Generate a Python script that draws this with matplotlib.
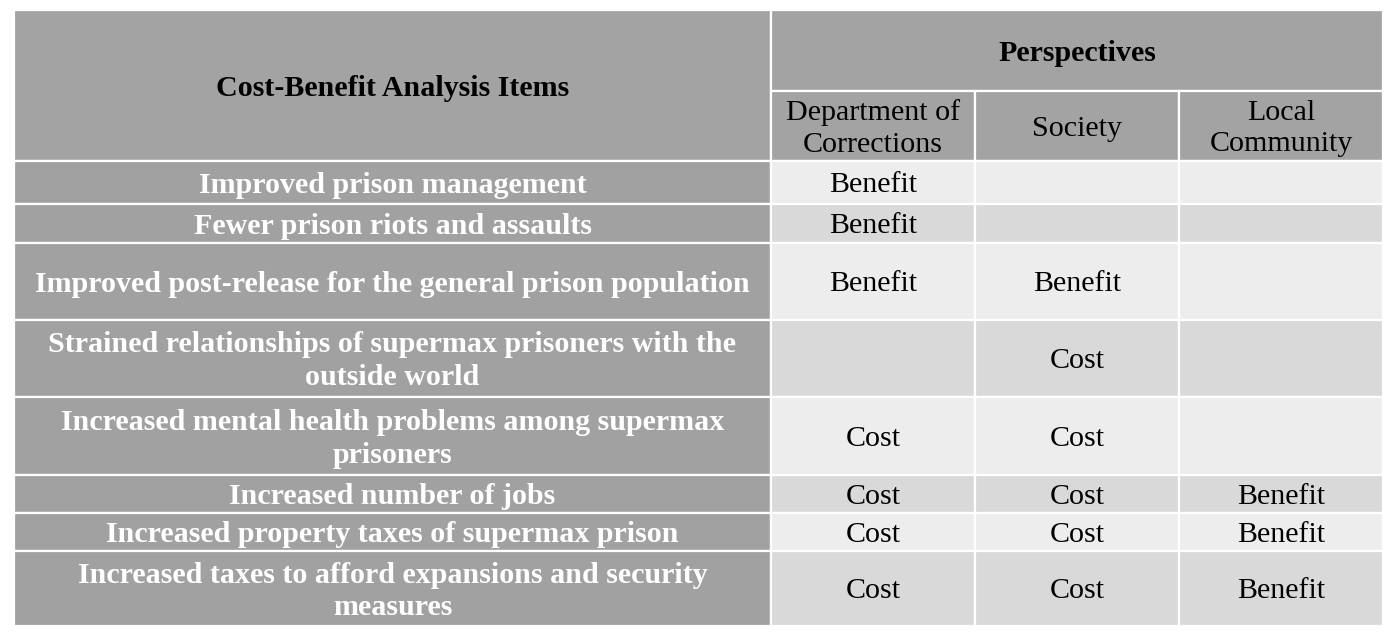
import matplotlib
matplotlib.use("Agg")
import matplotlib.pyplot as plt
from matplotlib.patches import Rectangle

# ---- data ----
title_items = "Cost-Benefit Analysis Items"
title_persp = "Perspectives"
perspectives = ["Department of\nCorrections", "Society", "Local\nCommunity"]
items = [
    "Improved prison management",
    "Fewer prison riots and assaults",
    "Improved post-release for the general prison population",
    "Strained relationships of supermax prisoners with the\noutside world",
    "Increased mental health problems among supermax\nprisoners",
    "Increased number of jobs",
    "Increased property taxes of supermax prison",
    "Increased taxes to afford expansions and security\nmeasures",
]
dept_corrections = ["Benefit", "Benefit", "Benefit", "", "Cost", "Cost", "Cost", "Cost"]
society = ["", "", "Benefit", "Cost", "Cost", "Cost", "Cost", "Cost"]
local_community = ["", "", "", "", "", "Benefit", "Benefit", "Benefit"]

# ---- layout (pixels) ----
col_edges = [14, 771, 975, 1179, 1383]
hdr_edges = [10, 90.5, 160.5]
row_edges = [160.5, 204, 242.5, 319.5, 397, 474.5, 512.5, 551, 626]

HDR = "#a3a3a3"
FIRST = "#a1a1a1"
LIGHT = "#ededed"
DARK = "#d9d9d9"
FS = 21.6
LS = 1.28

fig = plt.figure(figsize=(13.96, 6.40), dpi=100)
ax = fig.add_axes([0, 0, 1, 1])
ax.set_xlim(0, 1396)
ax.set_ylim(640, 0)
ax.axis("off")

def cell(x0, x1, y0, y1, color, text="", tcolor="black", bold=False):
    ax.add_patch(Rectangle((x0, y0), x1 - x0, y1 - y0, facecolor=color,
                           edgecolor="white", linewidth=1.6))
    if text:
        ax.text((x0 + x1) / 2, (y0 + y1) / 2 + 3, text, ha="center", va="center",
                multialignment="center", fontsize=FS, color=tcolor,
                family="Liberation Serif", fontweight="bold" if bold else "normal",
                linespacing=LS)

# header
cell(col_edges[0], col_edges[1], hdr_edges[0], hdr_edges[2], HDR, title_items, bold=True)
cell(col_edges[1], col_edges[4], hdr_edges[0], hdr_edges[1], HDR, title_persp, bold=True)
for j, p in enumerate(perspectives):
    cell(col_edges[j + 1], col_edges[j + 2], hdr_edges[1], hdr_edges[2], HDR, p)

# body
cols = [dept_corrections, society, local_community]
for i, it in enumerate(items):
    y0, y1 = row_edges[i], row_edges[i + 1]
    cell(col_edges[0], col_edges[1], y0, y1, FIRST, it, tcolor="white", bold=True)
    bg = LIGHT if i % 2 == 0 else DARK
    for j, c in enumerate(cols):
        cell(col_edges[j + 1], col_edges[j + 2], y0, y1, bg, c[i])

fig.savefig("out.png", dpi=100, facecolor="white")
